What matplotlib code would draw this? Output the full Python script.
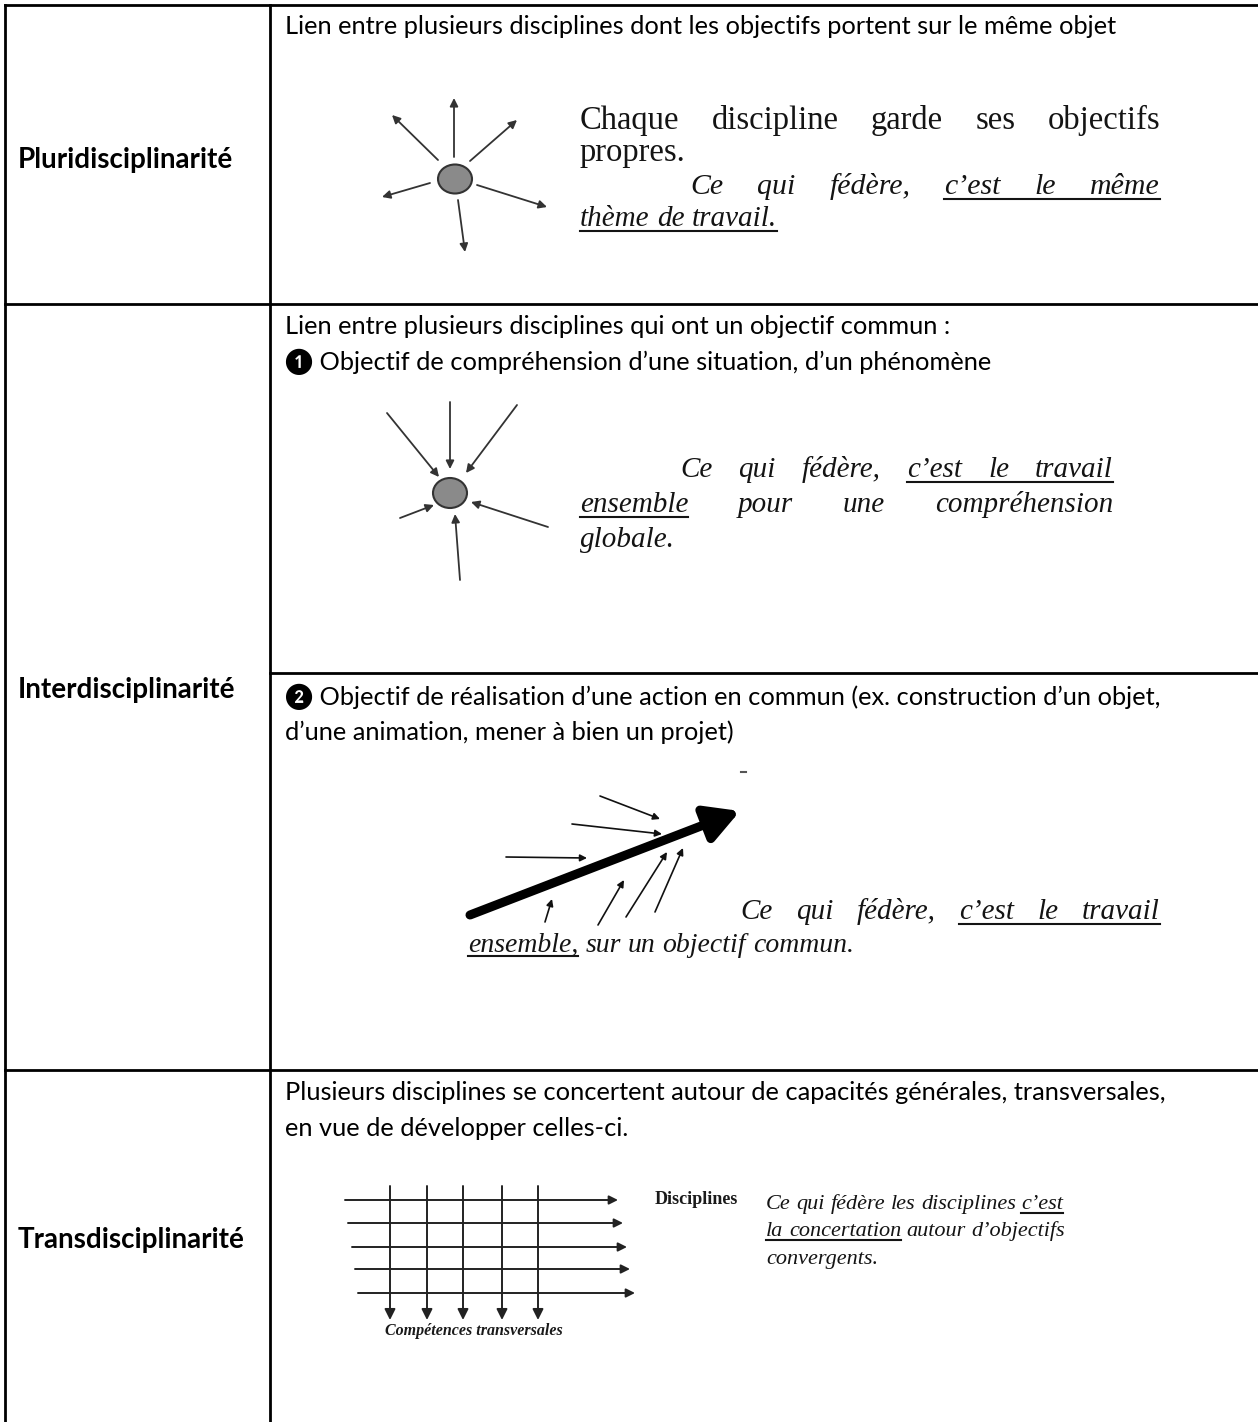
import matplotlib
matplotlib.use("Agg")
import matplotlib.pyplot as plt
from matplotlib.patches import Ellipse

W, H = 1258, 1422
figure = plt.figure(figsize=(W / 100, H / 100), dpi=100)
ax = figure.add_axes([0, 0, 1, 1])
ax.set_xlim(0, W)
ax.set_ylim(H, 0)
ax.axis("off")
renderer = figure.canvas.get_renderer()

# ---- content ----
row_labels = ["Pluridisciplinarité", "Interdisciplinarité", "Transdisciplinarité"]
row_label_y = [160, 690, 1240]
row_tops = [5, 304, 1070]
inner_split = 673

sans_lines = [
    ("Lien entre plusieurs disciplines dont les objectifs portent sur le même objet", 27),
    ("Lien entre plusieurs disciplines qui ont un objectif commun :", 327),
    ("\u2776 Objectif de compréhension d\u2019une situation, d\u2019un phénomène", 362),
    ("\u2777 Objectif de réalisation d\u2019une action en commun (ex. construction d\u2019un objet,", 697),
    ("d\u2019une animation, mener à bien un projet)", 732),
    ("Plusieurs disciplines se concertent autour de capacités générales, transversales,", 1093),
    ("en vue de développer celles-ci.", 1128),
]

# star diagrams: (start, tip) of each arrow
star_out_center = (455, 179)
star_out = [((454, 157), (454, 98)), ((438, 160), (392, 115)), ((470, 161), (517, 120)),
            ((430, 183), (382, 197)), ((477, 185), (547, 207)), ((458, 200), (465, 252))]
star_in_center = (450, 493)
star_in = [((387, 413), (439, 477)), ((450, 402), (450, 469)), ((517, 405), (466, 473)),
           ((400, 518), (434, 505)), ((548, 527), (471, 502)), ((460, 580), (455, 514))]

# action arrow diagram
big_arrow = ((470, 915), (740, 811))
small_arrows = [((506, 857), (587, 858)), ((572, 824), (662, 834)), ((600, 796), (660, 819)),
                ((545, 922), (552, 899)), ((598, 925), (624, 880)), ((626, 917), (667, 852)),
                ((655, 912), (683, 848))]

# transdisciplinarity grid
grid_rows_y = [1200, 1223, 1247, 1269, 1293]
grid_rows_x0 = [345, 348, 352, 355, 358]
grid_rows_x1 = [618, 623, 627, 630, 635]
grid_cols_x = [390, 427, 463, 502, 538]
grid_cols_y = (1186, 1320)

# serif paragraphs: (words, x0, x1 or None, baseline, underlined word indices, italic, size)
para_pluri = [
    ("Chaque discipline garde ses objectifs".split(), 580, 1160, 129, [], False, 23.5),
    ("propres.".split(), 580, None, 161, [], False, 23.5),
    ("Ce qui fédère, c\u2019est le même".split(), 690, 1160, 194, [3, 4, 5], True, 21.5),
    ("thème de travail.".split(), 580, None, 226, [0, 1, 2], True, 21),
]
para_inter1 = [
    ("Ce qui fédère, c\u2019est le travail".split(), 680, 1113, 477, [3, 4, 5], True, 21),
    ("ensemble pour une compréhension".split(), 580, 1113, 512, [0], True, 21),
    ("globale.".split(), 580, None, 547, [], True, 21),
]
para_inter2 = [
    ("Ce qui fédère, c\u2019est le travail".split(), 740, 1160, 919, [3, 4, 5], True, 21),
    ("ensemble, sur un objectif commun.".split(), 468, None, 952, [0], True, 20),
]
para_trans = [
    ("Ce qui fédère les disciplines c\u2019est".split(), 766, None, 1209, [5], True, 16),
    ("la concertation autour d\u2019objectifs".split(), 766, None, 1236, [0, 1], True, 16),
    ("convergents.".split(), 766, None, 1264, [], True, 16),
]

SANS = ["Lato", "DejaVu Sans"]
SERIF = "Liberation Serif"


def text_width(t):
    return t.get_window_extent(renderer).width


def put_words(words, x0, x1, y, under, italic, size, color="#141414"):
    style = "italic" if italic else "normal"
    arts = [ax.text(x0, y, w, family=SERIF, style=style, fontsize=size,
                    color=color, va="baseline", ha="left") for w in words]
    widths = [text_width(a) for a in arts]
    probe = ax.text(0, 0, "a a", family=SERIF, style=style, fontsize=size)
    probe2 = ax.text(0, 0, "aa", family=SERIF, style=style, fontsize=size)
    space = text_width(probe) - text_width(probe2)
    probe.remove()
    probe2.remove()
    if x1 is not None and len(words) > 1:
        gap = (x1 - x0 - sum(widths)) / (len(words) - 1)
    else:
        gap = space
    xs = []
    x = x0
    for a, w in zip(arts, widths):
        a.set_x(x)
        xs.append((x, x + w))
        x += w + gap
    if under:
        ux0 = xs[under[0]][0]
        ux1 = xs[under[-1]][1]
        ax.plot([ux0, ux1], [y + size * 0.22, y + size * 0.22], color=color, lw=1.5)


def arrow(p0, p1, lw=1.2, head=11, color="#111111"):
    ax.annotate("", xy=p1, xytext=p0,
                arrowprops=dict(arrowstyle="-|>", color=color, lw=lw,
                                mutation_scale=head, shrinkA=0, shrinkB=0))


# ---- table lines ----
line_kw = dict(color="black", lw=2.0, solid_capstyle="projecting")
ax.plot([5, W], [5, 5], **line_kw)
ax.plot([5, 5], [5, H], **line_kw)
ax.plot([270, 270], [5, H], **line_kw)
for yy in row_tops[1:]:
    ax.plot([5, W], [yy, yy], **line_kw)
ax.plot([270, W], [inner_split, inner_split], **line_kw)

for lab, yy in zip(row_labels, row_label_y):
    ax.text(18, yy, lab, family=SANS, fontweight="bold", fontsize=20,
            va="center", ha="left", color="black")

for txt, yy in sans_lines:
    ax.text(285, yy, txt, family=SANS, fontsize=18.3, va="center", ha="left", color="black")

# ---- star diagrams ----
for p0, p1 in star_out:
    arrow(p0, p1, lw=1.3, head=12, color="#333333")
ax.add_patch(Ellipse(star_out_center, 34, 29, facecolor="#8a8a8a", edgecolor="#333333", lw=1.5))
for p0, p1 in star_in:
    arrow(p0, p1, lw=1.3, head=12, color="#333333")
ax.add_patch(Ellipse(star_in_center, 34, 30, facecolor="#8a8a8a", edgecolor="#333333", lw=1.5))

# ---- action arrow ----
ax.annotate("", xy=big_arrow[1], xytext=big_arrow[0],
            arrowprops=dict(arrowstyle="-|>,head_length=1.0,head_width=0.55", color="black",
                            lw=6.5, mutation_scale=20, shrinkA=0, shrinkB=0, capstyle="round"))
for p0, p1 in small_arrows:
    arrow(p0, p1, lw=1.2, head=10)
ax.plot([741, 746], [772, 772], color="#555555", lw=1.5)

# ---- transdisciplinarity grid ----
for yy, xa, xb in zip(grid_rows_y, grid_rows_x0, grid_rows_x1):
    arrow((xa, yy), (xb, yy), lw=1.4, head=13, color="#222222")
for xx in grid_cols_x:
    arrow((xx, grid_cols_y[0]), (xx, grid_cols_y[1]), lw=1.4, head=16, color="#222222")
ax.text(655, 1204, "Disciplines", family=SERIF, fontweight="bold", fontsize=13,
        va="baseline", ha="left", color="#1a1a1a")
ax.text(385, 1335, "Compétences transversales", family=SERIF, fontweight="bold",
        style="italic", fontsize=11.5, va="baseline", ha="left", color="#1a1a1a")

# ---- serif paragraphs ----
for para in (para_pluri, para_inter1, para_inter2, para_trans):
    for words, x0, x1, yy, und, it, sz in para:
        put_words(words, x0, x1, yy, und, it, sz)

figure.savefig("out.png", dpi=100, facecolor="white")
